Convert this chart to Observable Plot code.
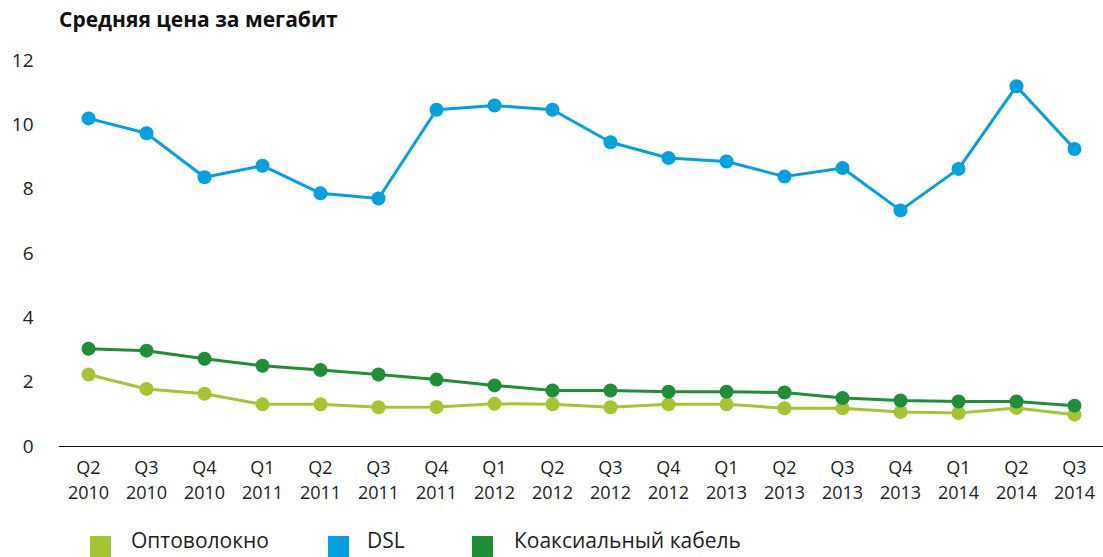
<!DOCTYPE html>
<html>
<head>
<meta charset="utf-8">
<script src="https://cdn.jsdelivr.net/npm/d3@7"></script>
<script src="https://cdn.jsdelivr.net/npm/@observablehq/plot@0.6"></script>
<style>
  html, body { margin: 0; padding: 0; background: #fff; width: 1103px; height: 557px; overflow: hidden; }
  body { font-family: "Open Sans", sans-serif; position: relative; }
  #title { position: absolute; left: 59px; top: 5px; font-size: 21px; font-weight: 700; color: #111; white-space: nowrap; }
  #chart { position: absolute; left: 0; top: 40px; }
  .legend { position: absolute; top: 526px; font-size: 21px; line-height: 29px; color: #222; }
  .sw { position: absolute; top: 536px; width: 21px; height: 21px; }
</style>
</head>
<body>
<div id="title">Средняя цена за мегабит</div>
<div id="chart"></div>
<div id="legend"></div>
<script>
const quarters = ["Q2 2010","Q3 2010","Q4 2010","Q1 2011","Q2 2011","Q3 2011","Q4 2011","Q1 2012","Q2 2012","Q3 2012","Q4 2012","Q1 2013","Q2 2013","Q3 2013","Q4 2013","Q1 2014","Q2 2014","Q3 2014"];
const seriesNames = ["Оптоволокно", "DSL", "Коаксиальный кабель"];
const seriesColors = ["#a5c530", "#00a1e0", "#1d8f37"];
const fiber = [2.24,1.79,1.64,1.31,1.31,1.22,1.23,1.33,1.31,1.22,1.31,1.31,1.19,1.19,1.07,1.04,1.20,0.99];
const dsl   = [10.2,9.74,8.37,8.73,7.87,7.71,10.47,10.6,10.47,9.46,8.97,8.86,8.39,8.66,7.34,8.63,11.2,9.25];
const coax  = [3.04,2.98,2.73,2.51,2.38,2.24,2.08,1.90,1.74,1.74,1.70,1.70,1.68,1.51,1.43,1.40,1.40,1.27];
const yTicks = [0,2,4,6,8,10,12];

const allSeries = [fiber, dsl, coax];
const data = [];
allSeries.forEach((vals, s) => vals.forEach((v, i) => data.push({q: quarters[i], s: seriesNames[s], v})));

const chart = Plot.plot({
  width: 1103,
  height: 470,
  marginTop: 20,
  marginBottom: 64,
  marginLeft: 59,
  marginRight: 0,
  style: {fontFamily: "Open Sans, sans-serif", fontSize: "18px", color: "#222"},
  x: {type: "point", domain: quarters, padding: 0.5, label: null},
  y: {domain: [0, 12], label: null},
  color: {domain: seriesNames, range: seriesColors},
  marks: [
    Plot.axisY({ticks: yTicks, tickSize: 0, tickPadding: 26, line: true, label: null, fontSize: 19}),
    Plot.axisX({tickSize: 0, tickPadding: 10, label: null, fontSize: 18, lineHeight: 1.38,
      tickFormat: d => d.replace(" ", "\n")}),
    Plot.ruleY([0], {stroke: "#111"}),
    Plot.line(data, {x: "q", y: "v", z: "s", stroke: "s", strokeWidth: 3}),
    Plot.dot(data, {x: "q", y: "v", fill: "s", r: 7})
  ]
});
document.getElementById("chart").appendChild(chart);

const legendPos = [{sw: 90, tx: 131}, {sw: 328, tx: 367}, {sw: 472, tx: 514}];
const lg = document.getElementById("legend");
seriesNames.forEach((n, i) => {
  const sw = document.createElement("div");
  sw.className = "sw";
  sw.style.left = legendPos[i].sw + "px";
  sw.style.background = seriesColors[i];
  lg.appendChild(sw);
  const t = document.createElement("div");
  t.className = "legend";
  t.style.left = legendPos[i].tx + "px";
  t.textContent = n;
  lg.appendChild(t);
});
</script>
</body>
</html>
